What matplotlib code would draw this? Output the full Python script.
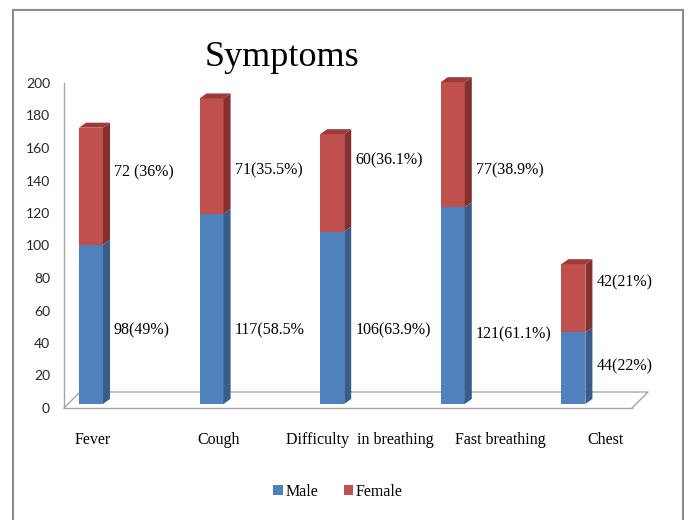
import matplotlib
matplotlib.use("Agg")
import matplotlib.pyplot as plt
from matplotlib.patches import Polygon, Patch
from matplotlib.lines import Line2D

categories = ["Fever", "Cough", "Difficulty  in breathing", "Fast breathing", "Chest"]
male = [98, 117, 106, 121, 44]
female = [72, 71, 60, 77, 42]
male_labels = ["98(49%)", "117(58.5%", "106(63.9%)", "121(61.1%)", "44(22%)"]
female_labels = ["72 (36%)", "71(35.5%)", "60(36.1%)", "77(38.9%)", "42(21%)"]
yticks = [0, 20, 40, 60, 80, 100, 120, 140, 160, 180, 200]

# layout (label heights, category label offsets)
male_label_y = [48, 48, 48, 45.5, 25.5]
female_label_y = [145, 146, 152.5, 146.5, 77]
cat_offsets = [0.017, 0.061, 0.23, 0.39, 0.27]

BLUE, BLUE_SIDE = "#4F81BD", "#385D8A"
RED, RED_SIDE, RED_TOP = "#C0504D", "#84302E", "#9E3B38"
serif = "Liberation Serif"

W, H = 688, 520
fig = plt.figure(figsize=(W / 100, H / 100), dpi=100)
ax = fig.add_axes([64 / W, 1 - 408 / H, (632 - 64) / W, (408 - 83) / H])

px_x = 120.6            # pixels per category
px_y = 325 / 200.0      # pixels per unit
xl, xr = (64 - 91) / px_x, (632 - 91) / px_x
ax.set_xlim(xl, xr)
ax.set_ylim(0, 200)

base = 2.5
w = 24 / px_x
dx = 7 / px_x
dy = 5 / px_y
x = list(range(len(categories)))

b1 = ax.bar(x, male, width=w, bottom=base, color=BLUE, linewidth=0, zorder=3)
b2 = ax.bar(x, female, width=w, bottom=[base + m for m in male], color=RED, linewidth=0, zorder=3)
for p in list(b1) + list(b2):
    p.set_clip_on(False)

for i in x:
    segs = [(base, base + male[i], BLUE_SIDE), (base + male[i], base + male[i] + female[i], RED_SIDE)]
    for y0, y1, c in segs:
        xr_ = i + w / 2
        ax.add_patch(Polygon([(xr_, y0), (xr_ + dx, y0 + dy), (xr_ + dx, y1 + dy), (xr_, y1)],
                             closed=True, facecolor=c, edgecolor="none", zorder=3, clip_on=False))
    top = base + male[i] + female[i]
    ax.add_patch(Polygon([(i - w / 2, top), (i - w / 2 + dx, top + dy), (i + w / 2 + dx, top + dy), (i + w / 2, top)],
                         closed=True, facecolor=RED_TOP, edgecolor="none", zorder=3, clip_on=False))
    lx = i + w / 2 + dx + 4 / px_x
    ax.text(lx, male_label_y[i], male_labels[i], ha="left", va="center",
            fontsize=11.5, family=serif, color="black", zorder=4)
    ax.text(lx, female_label_y[i], female_labels[i], ha="left", va="center",
            fontsize=11.5, family=serif, color="black", zorder=4)
    ax.text(i + cat_offsets[i], -0.0985, categories[i], ha="center", va="center",
            fontsize=11.5, family=serif, transform=ax.get_xaxis_transform())

# floor
gray = "#A6A6A6"
fdx = 16 / px_x
fdy = 16 / px_y
ax.plot([xl, xl + fdx, xr + fdx, xr], [0, fdy, fdy, 0], color=gray, lw=1, clip_on=False, zorder=1)

for s in ["top", "right"]:
    ax.spines[s].set_visible(False)
ax.spines["left"].set_color(gray)
ax.spines["bottom"].set_color(gray)
ax.spines["left"].set_linewidth(1)
ax.spines["bottom"].set_linewidth(1)
ax.set_xticks([])
ax.set_yticks(yticks)
ax.tick_params(axis="y", length=0, pad=10, labelsize=10)
for t in ax.get_yticklabels():
    t.set_family("Lato")
    t.set_color("#262626")
ax.patch.set_alpha(0)

fig.text(282 / W, 1 - 57 / H, "Symptoms", ha="center", va="center", fontsize=26, family=serif)

handles = [Patch(facecolor=BLUE, edgecolor="none"), Patch(facecolor=RED, edgecolor="none")]
leg = fig.legend(handles, ["Male", "Female"], loc="center", bbox_to_anchor=(338 / W, 1 - 492 / H),
                 ncol=2, frameon=False, handlelength=0.6, handleheight=0.6, handletextpad=0.15,
                 columnspacing=1.6, prop={"family": serif, "size": 11.5})

# outer frame
fc = "#8C8C8C"
fig.add_artist(Line2D([13 / W, 13 / W], [0, 1 - 10 / H], color=fc, lw=1.5, transform=fig.transFigure))
fig.add_artist(Line2D([13 / W, 683 / W], [1 - 10 / H, 1 - 10 / H], color=fc, lw=1.5, transform=fig.transFigure))
fig.add_artist(Line2D([683 / W, 683 / W], [0, 1 - 10 / H], color=fc, lw=1.5, transform=fig.transFigure))

fig.savefig("out.png", dpi=100)
